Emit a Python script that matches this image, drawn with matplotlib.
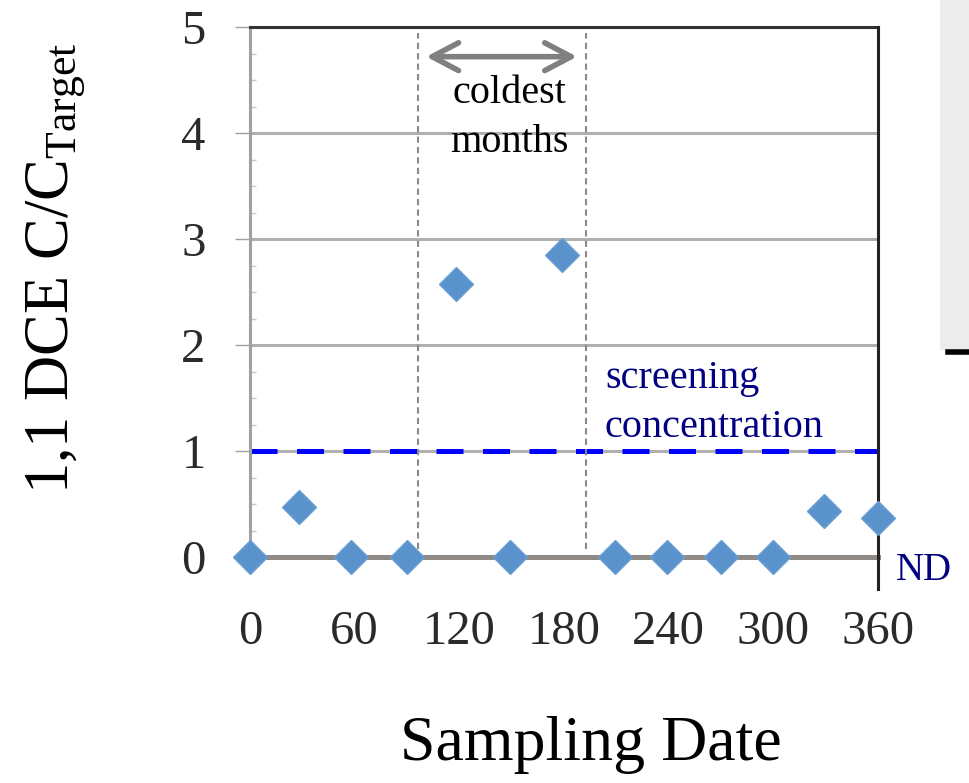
import matplotlib
matplotlib.use('Agg')
import matplotlib.pyplot as plt
from matplotlib.lines import Line2D
from matplotlib.patches import Rectangle

plt.rcParams['font.family'] = ['Liberation Serif', 'DejaVu Serif']
plt.rcParams['mathtext.fontset'] = 'custom'
plt.rcParams['mathtext.rm'] = 'Liberation Serif'
plt.rcParams['mathtext.it'] = 'Liberation Serif:italic'

# sampling day vs. 1,1 DCE concentration ratio
days = [0, 28, 58, 90, 118, 149, 179, 209, 239, 270, 300, 329, 360]
ratio = [0, 0.47, 0, 0, 2.58, 0, 2.85, 0, 0, 0, 0, 0.43, 0.37]

x_ticks = [0, 60, 120, 180, 240, 300, 360]
y_ticks = [0, 1, 2, 3, 4, 5]
screening = 1.0
cold_start, cold_end = 96.5, 192.5

fig = plt.figure(figsize=(9.69, 7.83), dpi=100)
ax = fig.add_axes([250 / 969, 1 - 557 / 783, 628 / 969, 530 / 783])
ax.set_xlim(0, 360)
ax.set_ylim(0, 5)

# gridlines
for yv in y_ticks[1:]:
    ax.axhline(yv, color='#b0b0b0', lw=2.2, zorder=1)

# screening concentration line
ax.axhline(screening, color='#0000ff', lw=3.6, dashes=(5.4, 3.9), zorder=2)

# coldest months
ax.vlines([cold_start, cold_end], 0.08, 4.94, colors='#8a8a8a', lw=1.5,
          linestyles=(0, (3, 2)), zorder=2)
ax.annotate('', xy=(cold_start + 4.5, 4.72), xytext=(cold_end - 5, 4.72),
            arrowprops=dict(arrowstyle='<->, head_length=1.9, head_width=1.0',
                            color='#808080', lw=4, mutation_scale=10,
                            shrinkA=0, shrinkB=0, capstyle='round',
                            joinstyle='round'))
ax.text(148.5, 4.28, 'coldest', ha='center', va='baseline', fontsize=29)
ax.text(148.5, 3.82, 'months', ha='center', va='baseline', fontsize=29)

ax.text(203.5, 1.594, 'screening', ha='left', va='baseline', fontsize=29,
        color='#000080')
ax.text(203.5, 1.13, 'concentration', ha='left', va='baseline', fontsize=29,
        color='#000080')
ax.text(370, -0.22, 'ND', ha='left', va='baseline', fontsize=28,
        color='#000080', clip_on=False)

# data
ax.plot(days, ratio, linestyle='none', marker='D', ms=17, color='#5a93cb',
        mec='#6a9fd4', mew=1, zorder=5, clip_on=False)

# axes styling
ax.spines['bottom'].set_color('#8f8a85')
ax.spines['bottom'].set_linewidth(3.6)
ax.spines['left'].set_color('#a0a0a0')
ax.spines['left'].set_linewidth(2.2)
ax.spines['top'].set_color('#333333')
ax.spines['top'].set_linewidth(2.2)
ax.spines['right'].set_visible(False)
ax.plot([360, 360], [-0.3, 5], color='#222222', lw=2.2, clip_on=False,
        zorder=4)

ax.set_xticks(x_ticks)
ax.set_yticks(y_ticks)
ax.set_yticks([v / 4 for v in range(21) if v % 4], minor=True)
ax.tick_params(axis='x', length=0, pad=38, labelsize=35, labelcolor='#2a2a2a')
ax.tick_params(axis='y', which='major', length=11, width=1, color='#a0a0a0',
               pad=21, labelsize=35, labelcolor='#2a2a2a')
ax.tick_params(axis='y', which='minor', direction='in', length=4, width=1,
               color='#c8c8c8')

fig.text(56 / 969, 1 - 268 / 783, '1,1 DCE C/C$_{\\mathrm{Target}}$',
         rotation=90, ha='center', va='center', fontsize=45)
fig.text(591 / 969, 1 - 745 / 783, 'Sampling Date', ha='center', va='center',
         fontsize=46)

# edge of the neighbouring figure on the right
fig.add_artist(Rectangle((940 / 969, 1 - 350 / 783), 29 / 969, 350 / 783,
                         transform=fig.transFigure, color='#ececec', lw=0))
fig.add_artist(Line2D([948 / 969, 1], [1 - 352 / 783, 1 - 352 / 783],
                      transform=fig.transFigure, color='black', lw=4))

fig.savefig('out.png', dpi=100)
